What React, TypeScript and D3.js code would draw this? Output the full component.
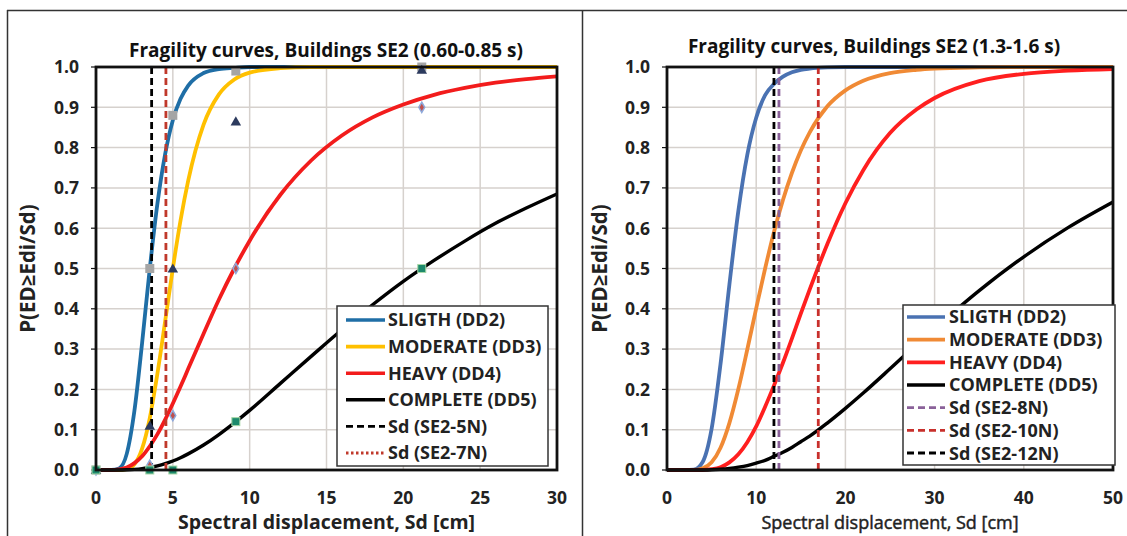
import React from 'react';
import * as d3 from 'd3';

const FONT = '"Open Sans", "DejaVu Sans", sans-serif';

// ---------- left chart: Buildings SE2 (0.60-0.85 s) ----------
const sdA = [0, 1, 1.5, 2, 2.5, 3, 3.5, 4, 4.5, 5, 5.5, 6, 7, 8, 9, 10, 12, 14, 16, 18, 20, 22, 24, 26, 28, 30];
const slightA = [0, 0, 0.004, 0.04, 0.147, 0.315, 0.5, 0.662, 0.784, 0.868, 0.921, 0.954, 0.985, 0.995, 0.998, 1, 1, 1, 1, 1, 1, 1, 1, 1, 1, 1];
const moderateA = [0, 0, 0, 0.002, 0.014, 0.053, 0.129, 0.24, 0.369, 0.5, 0.619, 0.718, 0.857, 0.932, 0.969, 0.986, 0.997, 1, 1, 1, 1, 1, 1, 1, 1, 1];
const heavyA = [0, 0, 0.0015, 0.006, 0.017, 0.034, 0.059, 0.089, 0.125, 0.165, 0.207, 0.251, 0.338, 0.423, 0.5, 0.569, 0.683, 0.768, 0.83, 0.875, 0.907, 0.931, 0.948, 0.961, 0.97, 0.977];
const completeA = [0, 0, 0, 0.0005, 0.0015, 0.0033, 0.0062, 0.0103, 0.0157, 0.0224, 0.0305, 0.04, 0.062, 0.088, 0.117, 0.148, 0.215, 0.282, 0.348, 0.41, 0.468, 0.52, 0.568, 0.612, 0.65, 0.685];

// observed points (left chart only)
const obsSd = [0, 3.5, 5, 9.1, 21.2];
const obsSlight = [0, 0.5, 0.88, 0.99, 1.0];
const obsModerate = [0, 0.11, 0.5, 0.865, 0.993];
const obsHeavy = [0, 0.012, 0.135, 0.5, 0.9];
const obsComplete = [0, 0, 0, 0.12, 0.5];

const sdLinesA = [3.62, 4.55];
const sdLabelsA = ['Sd (SE2-5N)', 'Sd (SE2-7N)'];

// ---------- right chart: Buildings SE2 (1.3-1.6 s) ----------
const sdB = [0, 2, 3, 4, 5, 6, 7, 8, 9, 10, 11, 12, 13, 14, 15, 16, 18, 20, 22, 25, 28, 30, 35, 40, 45, 50];
const slightB = [0, 0, 0.001, 0.02, 0.102, 0.263, 0.461, 0.643, 0.782, 0.874, 0.93, 0.958, 0.976, 0.987, 0.993, 0.996, 0.999, 1, 1, 1, 1, 1, 1, 1, 1, 1];
const moderateB = [0, 0, 0, 0.004, 0.019, 0.055, 0.117, 0.201, 0.299, 0.401, 0.5, 0.591, 0.67, 0.737, 0.793, 0.838, 0.903, 0.942, 0.966, 0.985, 0.993, 0.996, 0.999, 1, 1, 1];
const heavyB = [0, 0, 0, 0, 0.002, 0.007, 0.019, 0.039, 0.069, 0.108, 0.157, 0.21, 0.266, 0.326, 0.388, 0.448, 0.562, 0.662, 0.744, 0.836, 0.895, 0.923, 0.965, 0.983, 0.991, 0.995];
const completeB = [0, 0, 0, 0.0001, 0.0006, 0.002, 0.004, 0.007, 0.011, 0.017, 0.024, 0.034, 0.044, 0.056, 0.07, 0.084, 0.117, 0.153, 0.191, 0.251, 0.312, 0.351, 0.445, 0.529, 0.602, 0.665];

const sdLinesB = [12.55, 16.96, 11.99];
const sdLabelsB = ['Sd (SE2-8N)', 'Sd (SE2-10N)', 'Sd (SE2-12N)'];

const stateLabels = ['SLIGTH (DD2)', 'MODERATE (DD3)', 'HEAVY (DD4)', 'COMPLETE (DD5)'];
const yTicks = [0, 0.1, 0.2, 0.3, 0.4, 0.5, 0.6, 0.7, 0.8, 0.9, 1.0];
const xTicksA = [0, 5, 10, 15, 20, 25, 30];
const xTicksB = [0, 10, 20, 30, 40, 50];

const GRID = '#d6d1cd';

type Panel = {
  title: string;
  titleX: number;
  titleY: number;
  left: number;
  right: number;
  xMax: number;
  xTicks: number[];
  sd: number[];
  curves: number[][];
  colors: string[];
  widths: number[];
  sdLines: number[];
  sdLabels: string[];
  sdColors: string[];
  sdLegendDash: string[];
  legend: { x: number; y: number; w: number; h: number; row0: number; step: number; fs: number; l0: number; l1: number; tx: number };
  xTitleBold: boolean;
  xTitleSize: number;
  yTitleX: number;
  showObs: boolean;
};

const TOP = 67;
const BOTTOM = 470;

function Chart({ p }: { p: Panel }) {
  const x = d3.scaleLinear().domain([0, p.xMax]).range([p.left, p.right]);
  const y = d3.scaleLinear().domain([0, 1]).range([BOTTOM, TOP]);
  const line = d3
    .line<[number, number]>()
    .x((d) => x(d[0]))
    .y((d) => y(d[1]))
    .curve(d3.curveMonotoneX);
  const lg = p.legend;
  const legendItems = [
    ...stateLabels.map((l, i) => ({ label: l, color: p.colors[i], dash: undefined as string | undefined })),
    ...p.sdLabels.map((l, i) => ({ label: l, color: p.sdColors[i], dash: p.sdLegendDash[i] })),
  ];
  const clipId = `clip-${p.left}`;
  return (
    <g>
      <defs>
        <clipPath id={clipId}>
          <rect x={p.left} y={TOP - 2} width={p.right - p.left} height={BOTTOM - TOP + 4} />
        </clipPath>
      </defs>
      <text x={p.titleX} y={p.titleY} textAnchor="middle" fontFamily={FONT} fontWeight="bold" fontSize={19} fill="#111">
        {p.title}
      </text>
      {/* grid */}
      {yTicks.map((t) => (
        <line key={'gy' + t} x1={p.left} x2={p.right} y1={y(t)} y2={y(t)} stroke={GRID} strokeWidth={1.5} />
      ))}
      {p.xTicks.map((t) => (
        <line key={'gx' + t} x1={x(t)} x2={x(t)} y1={TOP} y2={BOTTOM} stroke={GRID} strokeWidth={1.5} />
      ))}
      {/* y ticks + labels */}
      {yTicks.map((t) => (
        <g key={'yt' + t}>
          <line x1={p.left - 5} x2={p.left} y1={y(t)} y2={y(t)} stroke="#111" strokeWidth={1.2} />
          <text x={p.left - 17} y={y(t)} dy="0.36em" textAnchor="end" fontFamily={FONT} fontWeight="bold" fontSize={17.5} fill="#222">
            {t.toFixed(1)}
          </text>
        </g>
      ))}
      {p.xTicks.map((t) => (
        <text key={'xt' + t} x={x(t)} y={504} textAnchor="middle" fontFamily={FONT} fontWeight="bold" fontSize={17.5} fill="#222">
          {t}
        </text>
      ))}
      <text
        transform={`translate(${p.yTitleX},${(TOP + BOTTOM) / 2}) rotate(-90)`}
        textAnchor="middle"
        fontFamily={FONT}
        fontWeight="bold"
        fontSize={20.5}
        fill="#222"
      >
        P(ED≥Edi/Sd)
      </text>
      <text
        x={(p.left + p.right) / 2}
        y={529}
        textAnchor="middle"
        fontFamily={FONT}
        fontWeight={p.xTitleBold ? 'bold' : 'normal'}
        fontSize={p.xTitleSize}
        fill="#222"
        stroke={p.xTitleBold ? 'none' : '#222'}
        strokeWidth={p.xTitleBold ? 0 : 0.45}
      >
        Spectral displacement, Sd [cm]
      </text>
      {/* curves */}
      <g clipPath={`url(#${clipId})`}>
        {p.curves.map((c, i) => (
          <path
            key={'c' + i}
            d={line(p.sd.map((s, j) => [s, c[j]] as [number, number])) || ''}
            fill="none"
            stroke={p.colors[i]}
            strokeWidth={p.widths[i]}
          />
        ))}
      </g>
      {p.sdLines.map((s, i) => (
        <line
          key={'sd' + i}
          x1={x(s)}
          x2={x(s)}
          y1={TOP}
          y2={BOTTOM}
          stroke={p.sdColors[i]}
          strokeWidth={2.8}
          strokeDasharray="7,4"
        />
      ))}
      {p.showObs && (
        <g>
          {obsSd.map((s, i) => (
            <rect key={'os' + i} x={x(s) - 4.5} y={y(obsSlight[i]) - 4.5} width={9} height={9} fill="#a5a5a5" />
          ))}
          {obsSd.map((s, i) => (
            <path
              key={'om' + i}
              d={d3.symbol(d3.symbolTriangle, 48)() || ''}
              transform={`translate(${x(s)},${y(obsModerate[i]) + 1})`}
              fill="#2c3a5e"
            />
          ))}
          {obsSd.map((s, i) => (
            <path
              key={'oh' + i}
              d={d3.symbol(d3.symbolDiamond, 30)() || ''}
              transform={`translate(${x(s)},${y(obsHeavy[i])})`}
              fill="#c0504d"
              stroke="#8ea9db"
              strokeWidth={1.5}
            />
          ))}
          {obsSd.map((s, i) => (
            <rect
              key={'oc' + i}
              x={x(s) - 4}
              y={y(obsComplete[i]) - 4}
              width={8}
              height={8}
              fill="#1d8a6c"
              stroke="#a8d8a8"
              strokeWidth={1}
            />
          ))}
        </g>
      )}
      {/* frame */}
      <rect x={p.left} y={TOP} width={p.right - p.left} height={BOTTOM - TOP} fill="none" stroke="#111" strokeWidth={2.8} />
      {/* legend */}
      <rect x={lg.x} y={lg.y} width={lg.w} height={lg.h} fill="#fff" stroke="#333" strokeWidth={1.5} />
      {legendItems.map((it, i) => {
        const yy = lg.row0 + i * lg.step;
        return (
          <g key={'lg' + i}>
            <line
              x1={lg.x + lg.l0}
              x2={lg.x + lg.l1}
              y1={yy}
              y2={yy}
              stroke={it.color}
              strokeWidth={it.dash ? 2.8 : 3.6}
              strokeDasharray={it.dash}
            />
            <text x={lg.x + lg.tx} y={yy} dy="0.36em" fontFamily={FONT} fontWeight="bold" fontSize={lg.fs} fill="#222">
              {it.label}
            </text>
          </g>
        );
      })}
    </g>
  );
}

const panelA: Panel = {
  title: 'Fragility curves, Buildings SE2 (0.60-0.85 s)',
  titleX: 326,
  titleY: 57,
  left: 96,
  right: 557,
  xMax: 30,
  xTicks: xTicksA,
  sd: sdA,
  curves: [slightA, moderateA, heavyA, completeA],
  colors: ['#1f6ea6', '#ffc000', '#f21c1c', '#000000'],
  widths: [3.8, 3.8, 3.8, 3.4],
  sdLines: sdLinesA,
  sdLabels: sdLabelsA,
  sdColors: ['#000000', '#c0392b'],
  sdLegendDash: ['7,4', '2.5,2.5'],
  legend: { x: 337, y: 306, w: 211, h: 160, row0: 320, step: 26.6, fs: 18, l0: 9, l1: 48, tx: 51 },
  xTitleBold: true,
  xTitleSize: 19.5,
  yTitleX: 35,
  showObs: true,
};

const panelB: Panel = {
  title: 'Fragility curves, Buildings SE2 (1.3-1.6 s)',
  titleX: 874,
  titleY: 53,
  left: 667,
  right: 1113,
  xMax: 50,
  xTicks: xTicksB,
  sd: sdB,
  curves: [slightB, moderateB, heavyB, completeB],
  colors: ['#4a72b2', '#f08a35', '#ff1f1f', '#000000'],
  widths: [3.8, 3.8, 3.8, 3.4],
  sdLines: sdLinesB,
  sdLabels: sdLabelsB,
  sdColors: ['#8a6199', '#c8302c', '#000000'],
  sdLegendDash: ['7,4', '7,4', '7,4'],
  legend: { x: 903, y: 305, w: 212, h: 160, row0: 317, step: 22.67, fs: 18, l0: 4, l1: 42, tx: 46 },
  xTitleBold: false,
  xTitleSize: 18,
  yTitleX: 607,
  showObs: false,
};

export default function App() {
  return (
    <svg
      width={1127}
      height={536}
      viewBox="0 0 1127 536"
      style={{ position: 'absolute', left: 0, top: 0, background: '#fff' }}
    >
      <rect x={0} y={0} width={1127} height={536} fill="#fff" />
      {/* outer panel borders */}
      <line x1={7} x2={1127} y1={10.5} y2={10.5} stroke="#333" strokeWidth={1.5} />
      <line x1={7.5} x2={7.5} y1={10} y2={536} stroke="#333" strokeWidth={1.5} />
      <line x1={582.5} x2={582.5} y1={10} y2={536} stroke="#333" strokeWidth={1.5} />
      <Chart p={panelA} />
      <Chart p={panelB} />
    </svg>
  );
}
